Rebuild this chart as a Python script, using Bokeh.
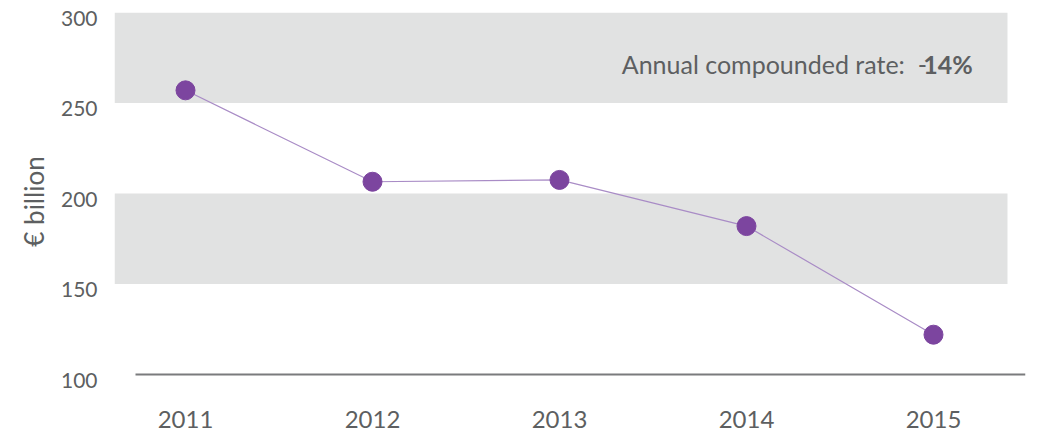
from bokeh.plotting import figure
from bokeh.models import (Range1d, LinearAxis, FixedTicker, Label, ColumnDataSource)
from bokeh.embed import file_html
from bokeh.resources import INLINE

# ---- data ----
years = [2011, 2012, 2013, 2014, 2015]
values = [257, 206.5, 207.5, 182, 122]
y_ticks = [100, 150, 200, 250, 300]
band_bottoms = [250, 150]
band_tops = [300, 200]
annotation_text = "Annual compounded rate:\u00a0\u00a0-"
annotation_value = "14%"
y_label = "€ billion"

TXT = "#5d5f61"
FONT = "Lato"

p = figure(width=1038, height=438, output_backend="svg", toolbar_location=None,
           x_axis_location="below", y_axis_location=None,
           min_border_left=114, min_border_right=13, min_border_top=12, min_border_bottom=48)
p.x_range = Range1d(2010.6203, 2015.492)
p.y_range = Range1d(91.16, 300)
p.extra_y_ranges = {"lbl": Range1d(94.47, 303.31)}
p.outline_line_color = None
p.xgrid.visible = False
p.ygrid.visible = False
p.background_fill_color = "white"
p.border_fill_color = "white"

# grey bands
bands = ColumnDataSource(dict(left=[2010.6203] * len(band_bottoms), right=[2015.3957] * len(band_bottoms),
                              bottom=band_bottoms, top=band_tops))
p.quad(left="left", right="right", bottom="bottom", top="top", source=bands,
       fill_color="#e1e2e2", line_color=None)

# baseline
p.segment(x0=[2010.7326], y0=[y_ticks[0]], x1=[2015.492], y1=[y_ticks[0]],
          line_color="#7a7b7d", line_width=2)

# series
src = ColumnDataSource(dict(x=years, y=values))
p.line("x", "y", source=src, line_color="#a98cc6", line_width=1.2)
p.scatter("x", "y", source=src, size=19, fill_color="#7c459f", line_color="#7c459f")

# x axis
xa = p.xaxis[0]
xa.ticker = FixedTicker(ticks=years)
xa.axis_line_color = None
xa.major_tick_line_color = None
xa.minor_tick_line_color = None
xa.major_label_standoff = 14
xa.major_label_text_font = FONT
xa.major_label_text_font_size = "24px"
xa.major_label_text_color = TXT

# y axis (labels)
ya = LinearAxis(y_range_name="lbl", ticker=FixedTicker(ticks=y_ticks))
ya.axis_line_color = None
ya.major_tick_line_color = None
ya.minor_tick_line_color = None
ya.major_label_standoff = 11
ya.major_label_text_font = FONT
ya.major_label_text_font_size = "21px"
ya.major_label_text_color = TXT
ya.axis_label = y_label
ya.axis_label_text_font = FONT
ya.axis_label_text_font_size = "26px"
ya.axis_label_text_font_style = "normal"
ya.axis_label_text_color = TXT
ya.axis_label_standoff = 8
p.add_layout(ya, "left")

# annotation
p.add_layout(Label(x=2014.965, y=271.8, text=annotation_text,
                   text_align="right", text_baseline="alphabetic", text_font=FONT,
                   text_font_size="25px", text_color=TXT))
p.add_layout(Label(x=2014.945, y=271.8, text=annotation_value,
                   text_align="left", text_baseline="alphabetic", text_font=FONT,
                   text_font_size="25px", text_font_style="bold", text_color=TXT))

open("out.html", "w").write(file_html(p, INLINE))
